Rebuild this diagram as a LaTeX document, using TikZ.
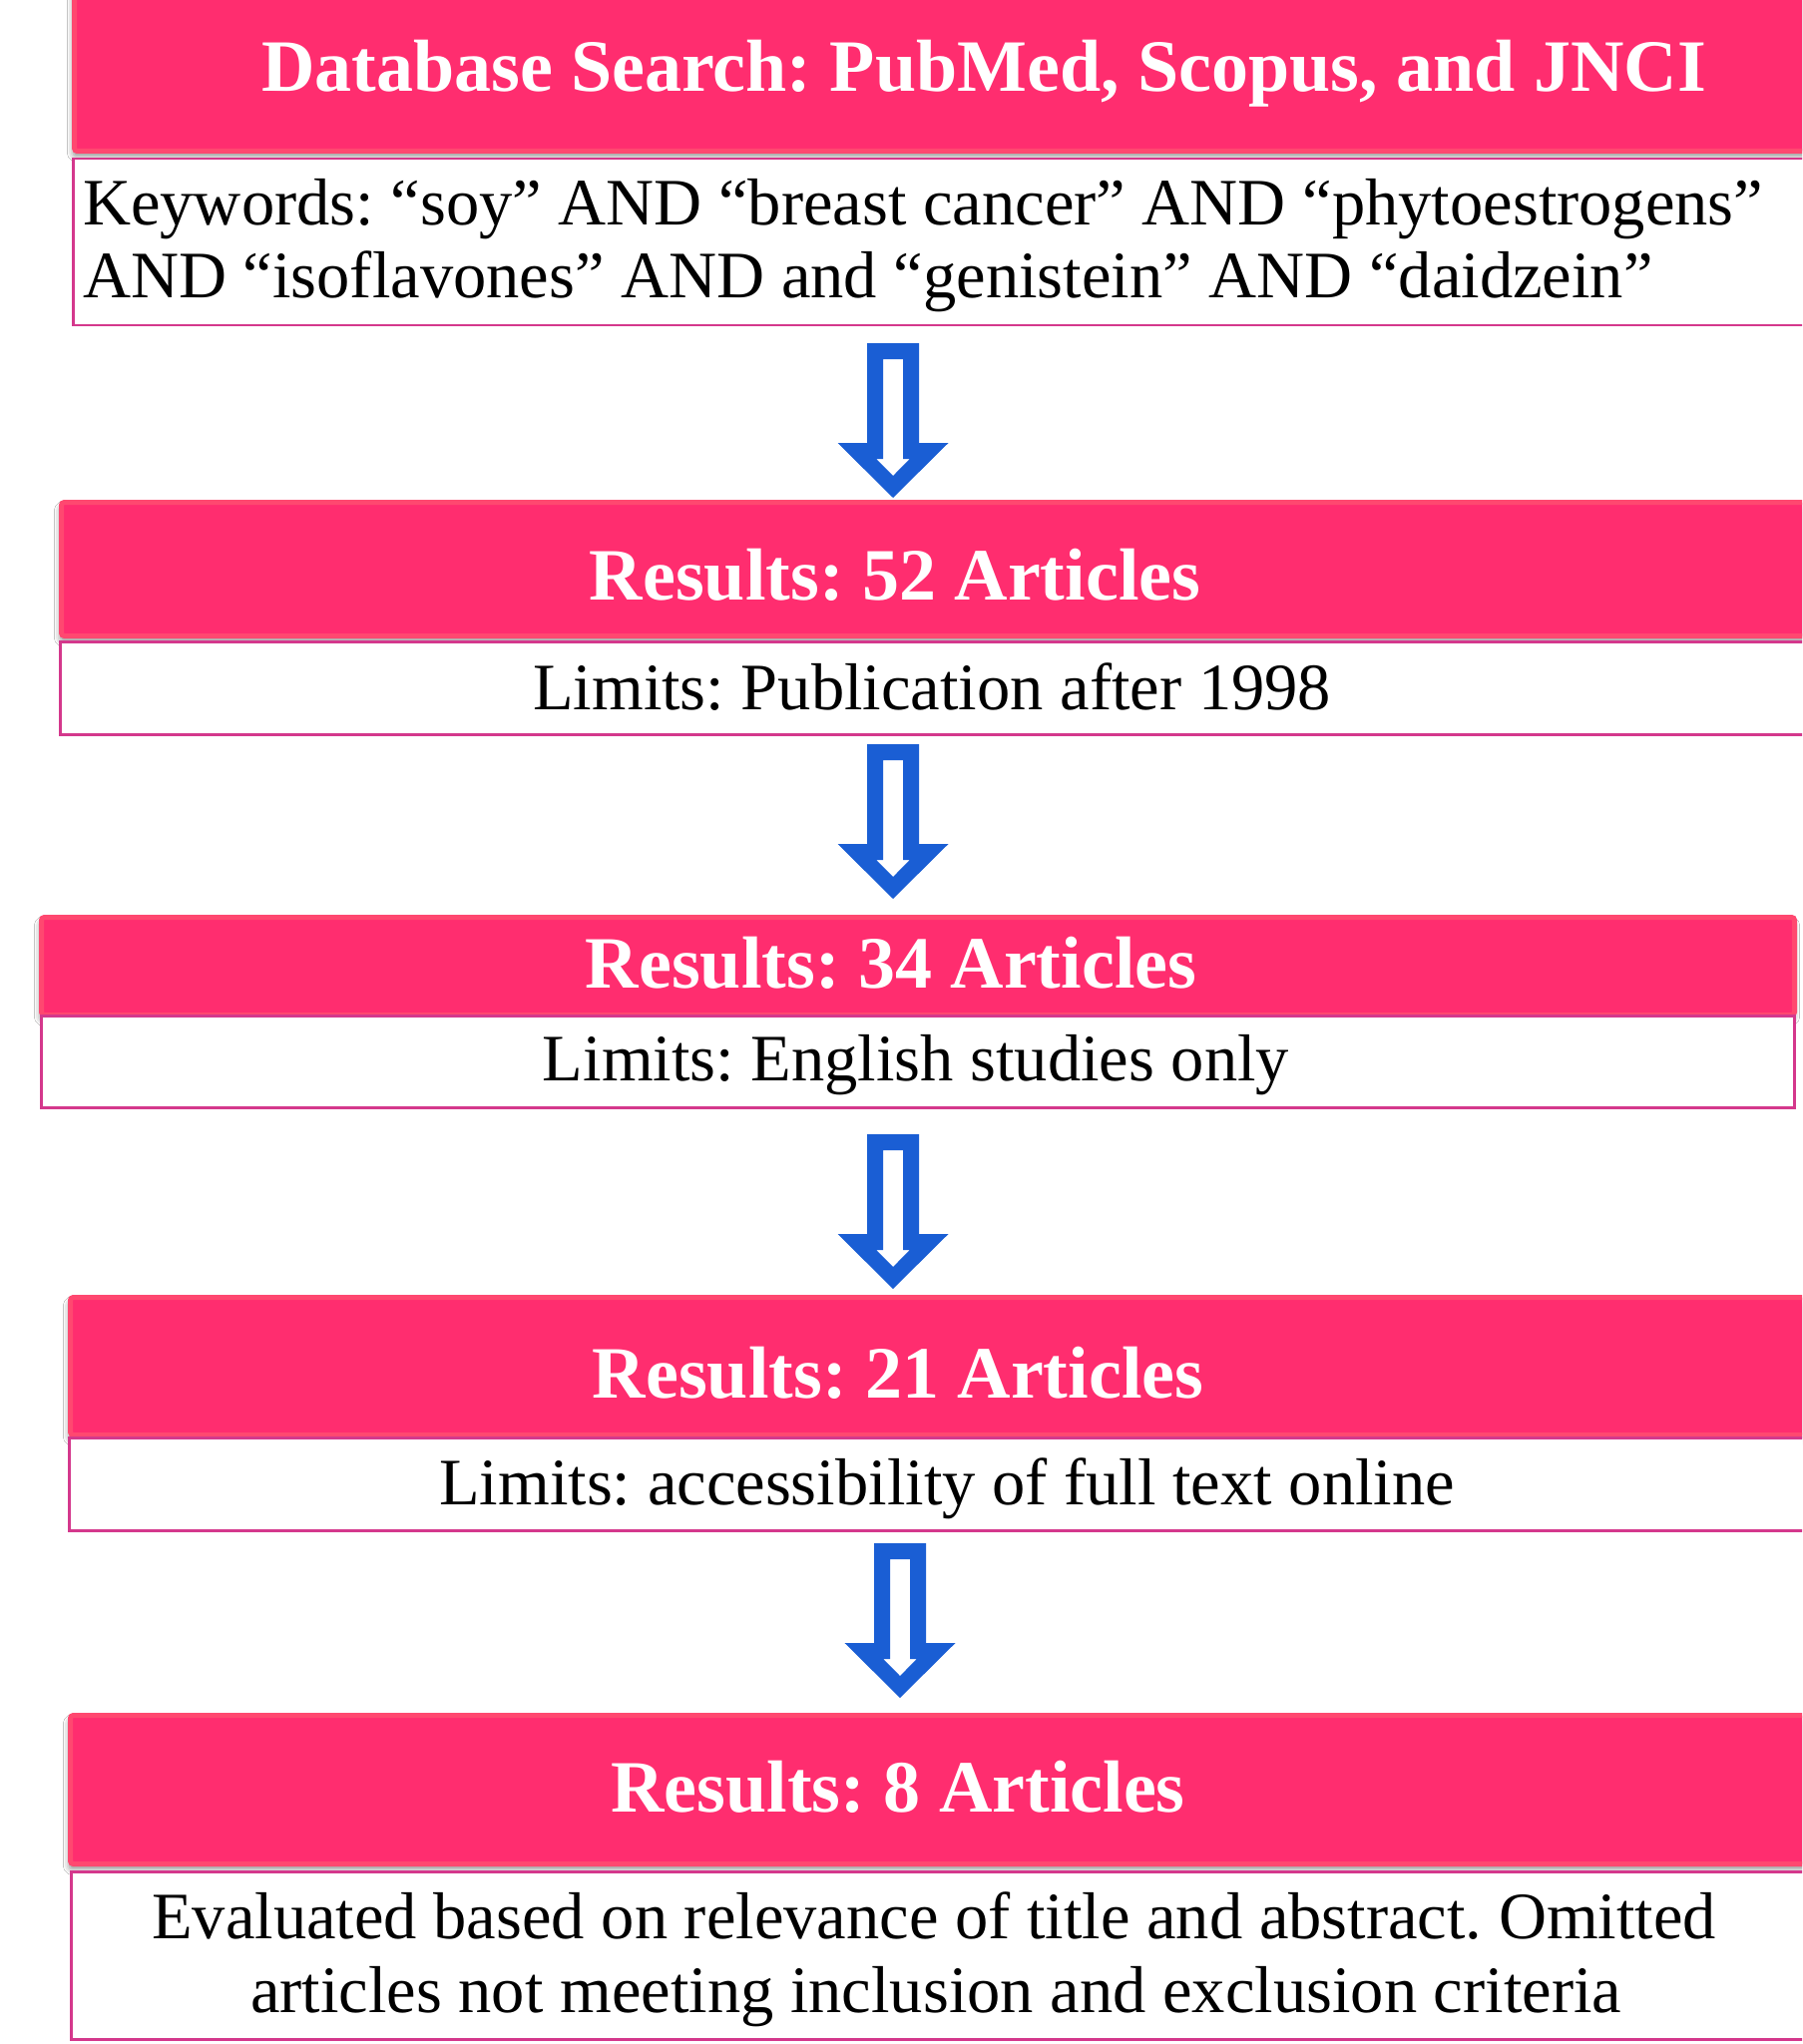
\documentclass[tikz,border=0pt]{standalone}
\usepackage{fontspec}
\setmainfont{Liberation Serif}
\usetikzlibrary{shadows.blur}
\frenchspacing
\definecolor{hdrpink}{RGB}{255,45,111}
\definecolor{hdredge}{RGB}{255,72,112}
\definecolor{bodyline}{RGB}{212,56,140}
\definecolor{arrowblue}{RGB}{26,94,212}
\newcommand{\blkarrow}[3]{%
  \coordinate (#1) at (#2,#3);
  \fill[arrowblue, even odd rule, shift={(#1)}]
    (-26,0) -- (26,0) -- (26,100) -- (55.5,100) -- (0,155) -- (-55.5,100) -- (-26,100) -- cycle
    (-10,16) -- (10,16) -- (10,116) -- (16.9,116) -- (0,133) -- (-16.9,116) -- (-10,116) -- cycle;}
\begin{document}
\frenchspacing
\begin{tikzpicture}[x=1pt,y=-1pt,
  hdrbox/.style={fill=hdrpink, draw=hdredge, line width=5pt, rounded corners=3pt,
    inner sep=0pt, anchor=north west,
    blur shadow={shadow xshift=-1pt, shadow yshift=-5pt, shadow blur radius=6pt, shadow opacity=45}},
  bodybox/.style={fill=white, draw=bodyline, line width=2.5pt, inner sep=0pt, anchor=north west},
  hdrtext/.style={text=white, font=\bfseries\fontsize{74}{80}\selectfont, inner sep=0pt, anchor=base},
  bodytext/.style={text=black, font=\fontsize{66.5}{74}\selectfont, inner sep=0pt, anchor=base}]
\fill[white] (0,0) rectangle (1806,2049);
\useasboundingbox (0,0) rectangle (1806,2049);
\clip (0,0) rectangle (1806,2049);

% box 1
\node[hdrbox, minimum width=1760pt, minimum height=160pt] (h1) at (72,-11) {};
\node[bodybox, minimum width=1760pt, minimum height=167pt] (b1) at (72,158) {};
\node[hdrtext] (t1) at (986,92) {Database Search: PubMed, Scopus, and JNCI};
\node[bodytext, anchor=base west] (k1) at (83,226) {Keywords: “soy” AND “breast cancer” AND “phytoestrogens”};
\node[bodytext, anchor=base west] (k2) at (83,299) {AND “isoflavones” AND and “genistein” AND “daidzein”};

% box 2
\node[hdrbox, minimum width=1770pt, minimum height=134pt] (h2) at (59,501) {};
\node[bodybox, minimum width=1770pt, minimum height=93pt] (b2) at (59,642) {};
\node[hdrtext] (t2) at (897,601) {Results: 52 Articles};
\node[bodytext] (l2) at (934,711) {Limits: Publication after 1998};

% box 3
\node[hdrbox, minimum width=1757pt, minimum height=98pt] (h3) at (39,917) {};
\node[bodybox, minimum width=1757pt, minimum height=92pt] (b3) at (40,1017) {};
\node[hdrtext] (t3) at (893,990) {Results: 34 Articles};
\node[bodytext] (l3) at (918,1083) {Limits: English studies only};

% box 4
\node[hdrbox, minimum width=1760pt, minimum height=138pt] (h4) at (68,1298) {};
\node[bodybox, minimum width=1760pt, minimum height=93pt] (b4) at (68,1440) {};
\node[hdrtext] (t4) at (900,1401) {Results: 21 Articles};
\node[bodytext] (l4) at (949,1508) {Limits: accessibility of full text online};

% box 5
\node[hdrbox, minimum width=1760pt, minimum height=149pt] (h5) at (68,1717) {};
\node[bodybox, minimum width=1760pt, minimum height=168pt] (b5) at (70,1875) {};
\node[hdrtext] (t5) at (900,1816) {Results: 8 Articles};
\node[bodytext] (e1) at (936,1943) {Evaluated based on relevance of title and abstract. Omitted};
\node[bodytext] (e2) at (938,2017) {articles not meeting inclusion and exclusion criteria};

% arrows
\blkarrow{a1}{895}{344}
\blkarrow{a2}{895}{746}
\blkarrow{a3}{895}{1137}
\blkarrow{a4}{902}{1547}
\end{tikzpicture}
\end{document}
